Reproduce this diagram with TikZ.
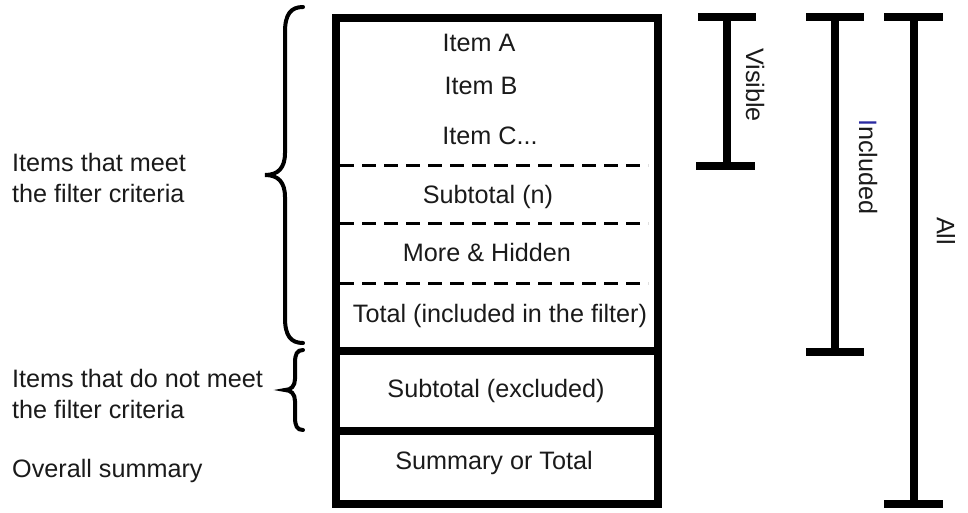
\documentclass[tikz,border=0pt]{standalone}
\usepackage{fontspec}
\setmainfont{Liberation Sans}
\definecolor{txt}{HTML}{1A1A1A}
\definecolor{iblue}{HTML}{2A2AA0}
\begin{document}
\begin{tikzpicture}[x=1pt,y=-1pt,
  lbl/.style={inner sep=0pt,text=txt,font=\fontsize{25.2}{31}\selectfont},
  leftlbl/.style={lbl,anchor=base west,align=left},
  boxlbl/.style={lbl,anchor=base},
  vlbl/.style={lbl,rotate=-90,anchor=center},
  frame/.style={line width=8pt},
  dashsep/.style={line width=3pt,dash pattern=on 14pt off 8pt},
  bar/.style={line width=8pt},
  bracestyle/.style={line width=4pt,line cap=round}]
\useasboundingbox (0,0) rectangle (968,512);
% main box
\coordinate (tl) at (336,18);
\coordinate (br) at (658,504);
\draw[frame] (tl) rectangle (br);
\draw[frame] (336,351) coordinate (s1l) -- (658,351) coordinate (s1r);
\draw[frame] (336,431) coordinate (s2l) -- (658,431) coordinate (s2r);
\draw[dashsep] (340,165) coordinate (d1l) -- (648,165) coordinate (d1r);
\draw[dashsep] (340,223) coordinate (d2l) -- (648,223) coordinate (d2r);
\draw[dashsep] (340,283) coordinate (d3l) -- (648,283) coordinate (d3r);
% box texts
\node[boxlbl] (ia) at (479,51) {Item A};
\node[boxlbl] (ib) at (481,94) {Item B};
\node[boxlbl] (ic) at (490,144) {Item C...};
\node[boxlbl] (sn) at (488,203) {Subtotal (n)};
\node[boxlbl] (mh) at (487,261) {More \& Hidden};
\node[boxlbl] (ti) at (500,322) {Total (included in the filter)};
\node[boxlbl] (se) at (496,397) {Subtotal (excluded)};
\node[boxlbl] (st) at (494,469) {Summary or Total};
% left texts
\node[leftlbl] (lmeet) at (12,202) {Items that meet\\the filter criteria};
\node[leftlbl] (lnot) at (12,418) {Items that do not meet\\the filter criteria};
\node[leftlbl] (lsum) at (12,477) {Overall summary};
% braces
\draw[bracestyle] (303,7) .. controls (291,7) and (285,14) .. (285,32) -- (285,153)
  .. controls (285,168) and (278,175) .. (265,175)
  .. controls (278,175) and (285,182) .. (285,197) -- (285,318)
  .. controls (285,336) and (291,343) .. (303,343);
\draw[bracestyle] (303,350) .. controls (297,350) and (295,354) .. (295,363) -- (295,379)
  .. controls (295,386) and (291,390) .. (285,390)
  .. controls (291,390) and (295,394) .. (295,401) -- (295,417)
  .. controls (295,426) and (297,430) .. (303,430);
% bars
\draw[bar] (698,17) coordinate (vt1) -- (756,17) coordinate (vt2);
\draw[bar] (696,166) coordinate (vb1) -- (755,166) coordinate (vb2);
\draw[bar] (727,17) coordinate (vtop) -- (727,166) coordinate (vbot);
\node[vlbl] (vis) at (755,85) {Visible};
\draw[bar] (806,17) coordinate (it1) -- (864,17) coordinate (it2);
\draw[bar] (806,352) coordinate (ib1) -- (864,352) coordinate (ib2);
\draw[bar] (835,17) coordinate (itop) -- (835,352) coordinate (ibot);
\node[vlbl] (inc) at (868,167) {\textcolor{iblue}{I}ncluded};
\draw[bar] (884,17) coordinate (at1) -- (943,17) coordinate (at2);
\draw[bar] (884,504) coordinate (ab1) -- (943,504) coordinate (ab2);
\draw[bar] (914,17) coordinate (atop) -- (914,504) coordinate (abot);
\node[vlbl] (all) at (946,231) {All};
\end{tikzpicture}
\end{document}
